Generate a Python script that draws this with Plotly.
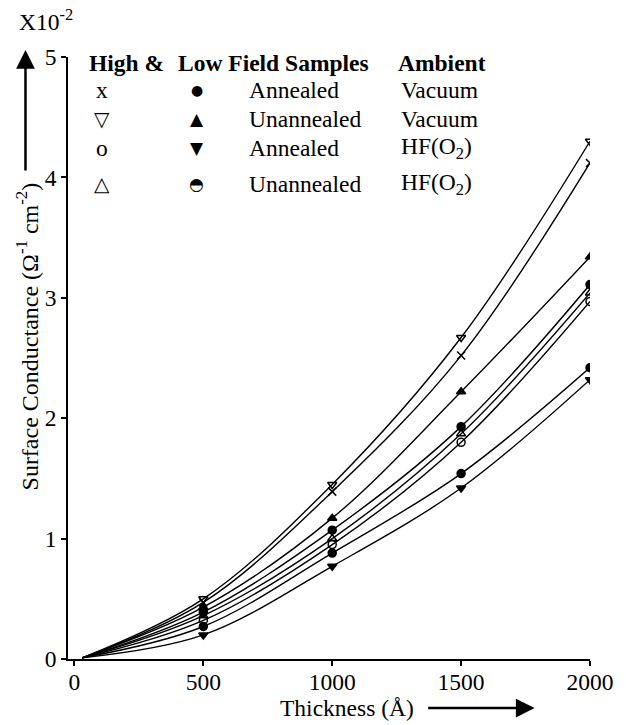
import plotly.graph_objects as go

# ---- data (Thickness in Å, Surface Conductance in units of 1e-2 Ω^-1 cm^-2)
thickness = [500, 1000, 1500, 2000]
curve_start_thickness = 30
curve_start_value = 0.01

series_names = [
    "High field, Unannealed, Vacuum",
    "High field, Annealed, Vacuum",
    "Low field, Unannealed, Vacuum",
    "Low field, Annealed, Vacuum",
    "High field, Unannealed, HF(O2)",
    "High field, Annealed, HF(O2)",
    "Low field, Unannealed, HF(O2)",
    "Low field, Annealed, HF(O2)",
]
hf_unann_vac = [0.50, 1.45, 2.67, 4.30]
hf_ann_vac = [0.47, 1.39, 2.52, 4.12]
lf_unann_vac = [0.43, 1.17, 2.22, 3.34]
lf_ann_vac = [0.39, 1.07, 1.93, 3.11]
hf_unann_hf = [0.36, 1.00, 1.87, 3.04]
hf_ann_hf = [0.32, 0.95, 1.80, 2.97]
lf_unann_hf = [0.27, 0.88, 1.54, 2.42]
lf_ann_hf = [0.20, 0.77, 1.42, 2.32]
series_values = [hf_unann_vac, hf_ann_vac, lf_unann_vac, lf_ann_vac,
                 hf_unann_hf, hf_ann_hf, lf_unann_hf, lf_ann_hf]
series_symbols = ["triangle-down-open", "x-thin-open", "triangle-up", "circle",
                  "triangle-up-open", "circle-open", "circle", "triangle-down"]

x_ticks = [0, 500, 1000, 1500, 2000]
y_ticks = [0, 1, 2, 3, 4, 5]

FONT = "Liberation Serif, Times New Roman, serif"
FS = 23.5

# plot area in pixels
L, R, T, B = 68, 596, 57, 659
W, H = 626, 725


def px(x):
    return (x - L) / (R - L)


def py(y):
    return (B - y) / (B - T)


fig = go.Figure()
for name, vals, sym in zip(series_names, series_values, series_symbols):
    fig.add_trace(go.Scatter(
        x=[curve_start_thickness] + thickness,
        y=[curve_start_value] + vals,
        mode="lines", line=dict(color="black", width=1.4, shape="spline", smoothing=1.0),
        showlegend=False, hoverinfo="skip"))
    fig.add_trace(go.Scatter(
        x=thickness, y=vals, mode="markers", name=name,
        marker=dict(symbol=sym, size=8, color="black",
                    line=dict(color="black", width=1.5)),
        showlegend=False))

ann = []
# header
for txt, x in [("<b>High &amp;</b>", 87), ("<b>Low Field Samples</b>", 177), ("<b>Ambient</b>", 400)]:
    ann.append(dict(text=txt, x=px(x), y=py(63), xanchor="left", yanchor="middle"))

legend_rows = [
    ("x", "●", "Annealed", "Vacuum", 90),
    ("▽", "▲", "Unannealed", "Vacuum", 119),
    ("o", "▼", "Annealed", "HF(O<sub>2</sub>)", 148),
    ("△", "◓", "Unannealed", "HF(O<sub>2</sub>)", 184),
]
for hs, ls, kind, amb, y in legend_rows:
    ann.append(dict(text=hs, x=px(102), y=py(y), xanchor="center", yanchor="middle",
                    font=dict(family="DejaVu Sans" if hs in "▽△" else FONT,
                              size=20 if hs in "▽△" else FS, color="black")))
    ann.append(dict(text=ls, x=px(198), y=py(y), xanchor="center", yanchor="middle",
                    font=dict(family="DejaVu Sans", size=14 if ls == "●" else 17, color="black")))
    ann.append(dict(text=kind, x=px(249), y=py(y), xanchor="left", yanchor="middle"))
    ann.append(dict(text=amb, x=px(403), y=py(y), xanchor="left", yanchor="middle"))

# multiplier
ann.append(dict(text="X10<sup>-2</sup>", x=px(16), y=py(20), xanchor="left", yanchor="middle"))
# axis titles
ann.append(dict(text="Surface Conductance (Ω<sup>-1</sup> cm<sup>-2</sup>)", textangle=-90,
                x=px(27), y=py(336), xanchor="center", yanchor="middle",
                font=dict(family=FONT, size=24, color="black")))
ann.append(dict(text="Thickness (Å)", x=px(350), y=py(708), xanchor="center", yanchor="middle"))
# arrows
ann.append(dict(text="", x=px(25), y=py(50), ax=0, ay=122, axref="pixel", ayref="pixel",
                showarrow=True, arrowhead=2, arrowsize=1.5, arrowwidth=2.5, arrowcolor="black"))
ann.append(dict(text="", x=px(540), y=py(708), ax=-108, ay=0, axref="pixel", ayref="pixel",
                showarrow=True, arrowhead=2, arrowsize=1.5, arrowwidth=2.5, arrowcolor="black"))

for a in ann:
    a.setdefault("xref", "paper")
    a.setdefault("yref", "paper")
    a.setdefault("showarrow", False)
    a.setdefault("font", dict(family=FONT, size=FS, color="black"))

fig.update_layout(
    width=W, height=H,
    margin=dict(l=L, r=W - R, t=T, b=H - B),
    paper_bgcolor="white", plot_bgcolor="white",
    font=dict(family=FONT, size=FS, color="black"),
    annotations=ann,
    xaxis=dict(range=[-25, 2000], tickvals=x_ticks, showgrid=False, zeroline=False,
               showline=True, linecolor="black", linewidth=1.5,
               ticks="outside", ticklen=5, tickcolor="black", tickwidth=1.5,
               ticklabelstandoff=-4,
               tickfont=dict(family=FONT, size=FS)),
    yaxis=dict(range=[0, 5], tickvals=y_ticks, showgrid=False, zeroline=False,
               showline=True, linecolor="black", linewidth=1.5,
               ticks="outside", ticklen=5, tickcolor="black", tickwidth=1.5,
               tickfont=dict(family=FONT, size=FS)),
)

fig.write_html("out.html")
